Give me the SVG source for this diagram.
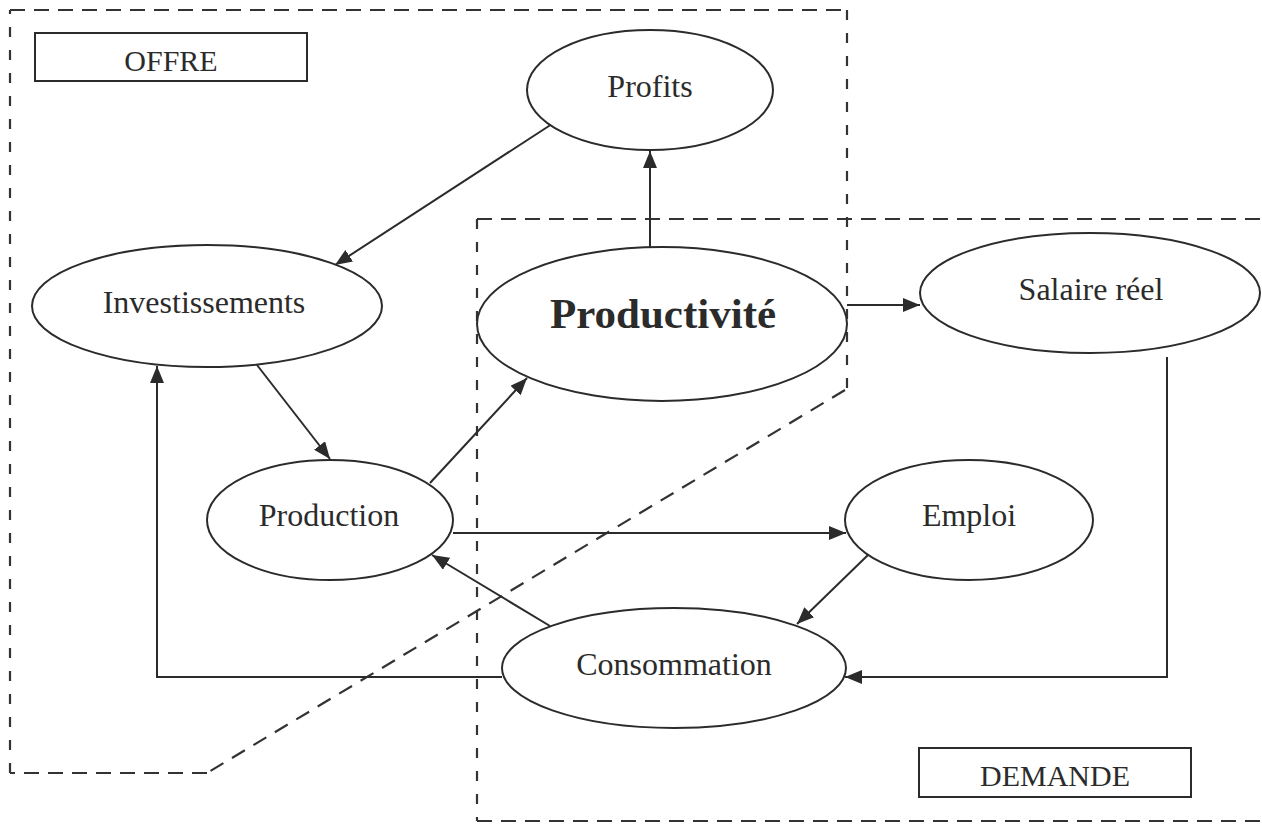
<svg xmlns="http://www.w3.org/2000/svg" width="1262" height="825" viewBox="0 0 1262 825">
<style>
.bg{fill:#ffffff}
.zone{fill:none;stroke:#333;stroke-width:2.2}
.h{stroke-dasharray:15 9}
.v{stroke-dasharray:10 13}
.d{stroke-dasharray:15 10}
.node{fill:#fff;stroke:#2b2b2b;stroke-width:2}
.box{fill:#fff;stroke:#2b2b2b;stroke-width:2}
.lbl{font-family:"Liberation Serif","Times New Roman",serif;font-size:32px;fill:#2b2b2b;text-anchor:middle}
.big{font-size:43px;font-weight:bold}
.tag{font-size:30px}
.conn{fill:none;stroke:#2b2b2b;stroke-width:2;marker-end:url(#ah)}
</style>
<defs>
<marker id="ah" markerUnits="userSpaceOnUse" markerWidth="18" markerHeight="14" refX="17" refY="7" orient="auto">
<path d="M0,0 L17,7 L0,14 z" fill="#2b2b2b"/>
</marker>
</defs>
<rect class="bg" x="0" y="0" width="1262" height="825"/>
<g id="zones">
<path class="zone h" d="M10,10 H847"/>
<path class="zone v" d="M847,10 V390"/>
<path class="zone d" d="M845,390 L207,773"/>
<path class="zone h" d="M207,773 H10"/>
<path class="zone v" d="M10,773 V10"/>
<path class="zone h" d="M477,219 H1262"/>
<path class="zone v" d="M477,219 V821"/>
<path class="zone h" d="M477,821 H1262"/>
</g>
<g id="connectors">
<line class="conn" x1="650" y1="247" x2="650" y2="151"/>
<line class="conn" x1="552" y1="124" x2="335" y2="265"/>
<line class="conn" x1="847" y1="305" x2="920" y2="305"/>
<line class="conn" x1="257" y1="365" x2="330" y2="459"/>
<line class="conn" x1="430" y1="483" x2="527" y2="378"/>
<line class="conn" x1="453" y1="533" x2="846" y2="533"/>
<line class="conn" x1="868" y1="555" x2="797" y2="624"/>
<line class="conn" x1="550" y1="626" x2="432" y2="555"/>
<polyline class="conn" points="502,677 157,677 157,366"/>
<polyline class="conn" points="1167,357 1167,677 845,677"/>
</g>
<g id="offre-label">
<rect class="box" x="35" y="33" width="272" height="48"/>
<text class="lbl tag" x="171" y="71">OFFRE</text>
</g>
<g id="demande-label">
<rect class="box" x="919" y="748" width="272" height="49"/>
<text class="lbl tag" x="1055" y="786">DEMANDE</text>
</g>
<g id="profits">
<ellipse class="node" cx="650" cy="90" rx="123" ry="60"/>
<text class="lbl" x="650" y="97">Profits</text>
</g>
<g id="investissements">
<ellipse class="node" cx="207" cy="306" rx="175" ry="61"/>
<text class="lbl" x="204" y="313">Investissements</text>
</g>
<g id="productivite">
<ellipse class="node" cx="662" cy="324" rx="185" ry="77"/>
<text class="lbl big" x="663" y="328">Productivité</text>
</g>
<g id="salaire">
<ellipse class="node" cx="1090" cy="293" rx="170" ry="60"/>
<text class="lbl" x="1091" y="300">Salaire réel</text>
</g>
<g id="production">
<ellipse class="node" cx="330" cy="520" rx="123" ry="60"/>
<text class="lbl" x="329" y="526">Production</text>
</g>
<g id="emploi">
<ellipse class="node" cx="969" cy="520" rx="124" ry="60"/>
<text class="lbl" x="969" y="526">Emploi</text>
</g>
<g id="consommation">
<ellipse class="node" cx="674" cy="668" rx="172" ry="60"/>
<text class="lbl" x="674" y="675">Consommation</text>
</g>
</svg>
